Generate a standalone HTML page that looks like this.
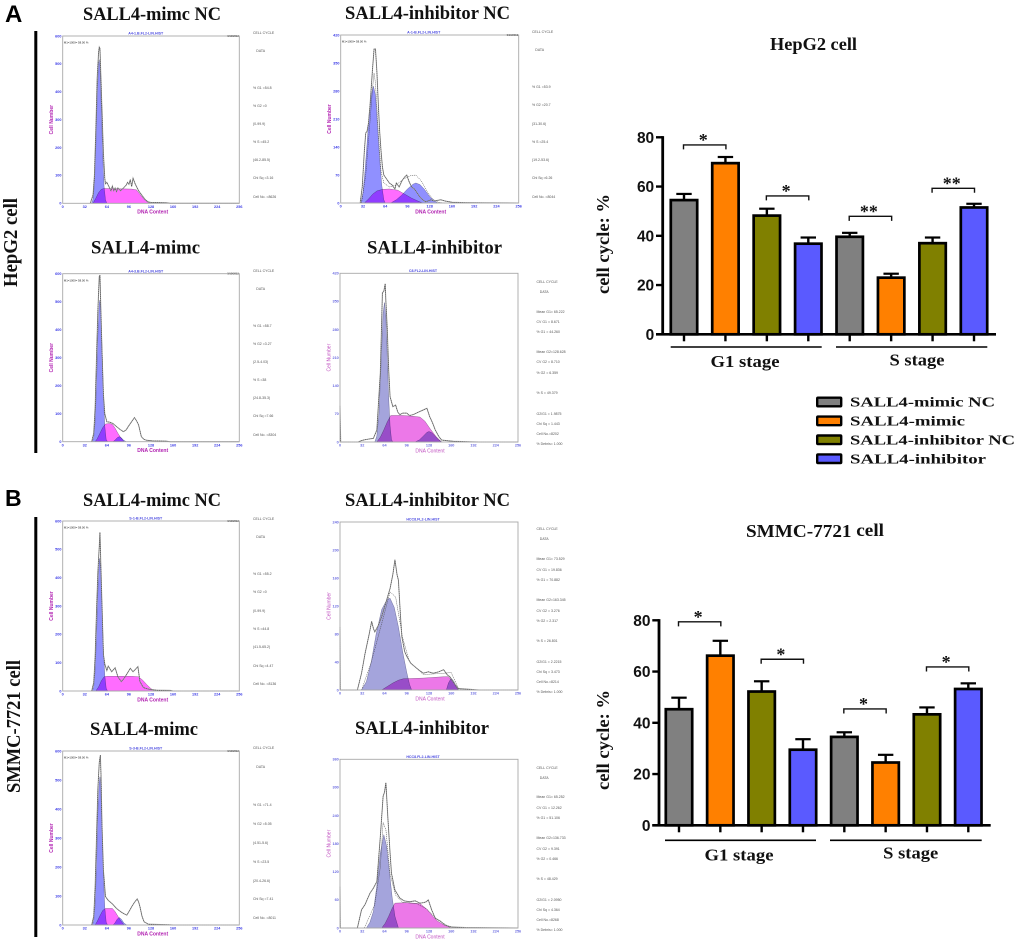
<!DOCTYPE html>
<html lang="en">
<head>
<meta charset="utf-8">
<title>SALL4 cell cycle figure</title>
<style>
html,body{margin:0;padding:0;background:#fff;}
svg{display:block;}
.serif{font-family:"Liberation Serif",serif;font-weight:bold;fill:#111;}
.sans{font-family:"Liberation Sans",sans-serif;}
.tiny{font-family:"Liberation Sans",sans-serif;font-size:3.5px;fill:#555;}
.mult{mix-blend-mode:multiply;}
#histograms{filter:blur(0.3px);}
</style>
</head>
<body>
<svg id="fig" xmlns="http://www.w3.org/2000/svg" width="1020" height="942" viewBox="0 0 1020 942">
  <rect x="0" y="0" width="1020" height="942" fill="#fff"/>
  <text class="sans" x="5" y="22" font-size="24" font-weight="bold" fill="#000">A</text>
  <text class="sans" x="5" y="506" font-size="23" font-weight="bold" fill="#000">B</text>
  <rect x="34.3" y="31" width="3" height="422" fill="#000"/>
  <rect x="34.3" y="517" width="3" height="420" fill="#000"/>
  <text class="serif" font-size="19.5" text-anchor="middle" textLength="89" lengthAdjust="spacingAndGlyphs" transform="translate(17 242.5) rotate(-90)">HepG2 cell</text>
  <text class="serif" font-size="19.5" text-anchor="middle" textLength="133" lengthAdjust="spacingAndGlyphs" transform="translate(20 726.5) rotate(-90)">SMMC-7721 cell</text>

  <text class="serif" x="83" y="20" font-size="19" textLength="138" lengthAdjust="spacingAndGlyphs">SALL4-mimc NC</text>
  <text class="serif" x="345" y="19" font-size="19" textLength="165" lengthAdjust="spacingAndGlyphs">SALL4-inhibitor NC</text>
  <text class="serif" x="91" y="253.5" font-size="19" textLength="109" lengthAdjust="spacingAndGlyphs">SALL4-mimc</text>
  <text class="serif" x="367" y="253.5" font-size="19" textLength="135" lengthAdjust="spacingAndGlyphs">SALL4-inhibitor</text>
  <text class="serif" x="83" y="506" font-size="19" textLength="138" lengthAdjust="spacingAndGlyphs">SALL4-mimc NC</text>
  <text class="serif" x="345" y="506" font-size="19" textLength="165" lengthAdjust="spacingAndGlyphs">SALL4-inhibitor NC</text>
  <text class="serif" x="90" y="735" font-size="19" textLength="108" lengthAdjust="spacingAndGlyphs">SALL4-mimc</text>
  <text class="serif" x="355" y="734" font-size="19" textLength="134" lengthAdjust="spacingAndGlyphs">SALL4-inhibitor</text>

  <text class="serif" x="770" y="50" font-size="17.5" textLength="87" lengthAdjust="spacingAndGlyphs">HepG2 cell</text>
  <text class="serif" x="746" y="537" font-size="17.5" textLength="138" lengthAdjust="spacingAndGlyphs">SMMC-7721 <tspan dy="-1">cell</tspan></text>

  <g id="histograms"></g>
  <g id="chartA"></g>
  <g id="chartB"></g>
  <g id="legend"></g>
</svg>
<script>
/* ---------- bar chart data ---------- */
const stageLabels = ["G1 stage", "S stage"];
const groupLabels = ["SALL4-mimic NC", "SALL4-mimic", "SALL4-inhibitor NC", "SALL4-inhibitor"];
const groupColors = ["#808080", "#ff8000", "#808000", "#5a5aff"];
const yTickValues = [0, 20, 40, 60, 80];
const hepg2Values = [54.5, 69.5, 48.2, 36.8, 39.6, 23.0, 37.0, 51.5];
const hepg2ErrorTops = [57.0, 72.0, 51.0, 39.3, 41.2, 24.6, 39.3, 53.0];
const hepg2Brackets = [[0, 1, 76.9, "*"], [2, 3, 56.2, "*"], [4, 5, 47.9, "**"], [6, 7, 59.3, "**"]];
const smmcValues = [45.3, 66.2, 52.2, 29.5, 34.5, 24.5, 43.3, 53.2];
const smmcErrorTops = [49.8, 72.0, 56.2, 33.6, 36.3, 27.5, 46.0, 55.4];
const smmcBrackets = [[0, 1, 79.4, "*"], [2, 3, 64.8, "*"], [4, 5, 45.4, "*"], [6, 7, 61.8, "*"]];

/* ---------- histogram data: [DNA channel, cell count] ---------- */
const xTickLabels = [0, 32, 64, 96, 128, 160, 192, 224, 256];
const a1Ticks = [0, 100, 200, 300, 400, 500, 600];
const a1G1 = [[42,0],[44,15],[46,70],[48,200],[50,380],[52,500],[53,515],[54,490],[56,340],[58,170],[60,60],[62,12],[64,0]];
const a1S = [[44,0],[48,18],[52,38],[56,50],[60,53],[80,52],[100,51],[107,48],[112,32],[118,14],[124,2],[128,0]];
const a1Raw = [[40,0],[44,30],[46,100],[48,260],[50,450],[52,540],[53,560],[54,555],[55,480],[57,330],[59,180],[61,90],[62,70],[64,75],[66,65],[68,55],[70,45],[72,62],[74,45],[76,55],[78,42],[80,55],[84,45],[88,55],[92,65],[94,75],[96,68],[98,85],[100,60],[102,90],[105,70],[108,55],[110,45],[116,25],[120,12],[124,5],[128,3],[136,3],[150,2],[156,0],[256,0]];

const a2Ticks = [0, 70, 140, 210, 280, 350, 420];
const a2G1 = [[29,0],[32,25],[35,80],[38,150],[41,225],[44,270],[47,292],[50,270],[53,190],[56,110],[59,45],[62,8],[64,0]];
const a2S = [[34,0],[40,10],[46,22],[52,30],[60,34],[70,35],[82,32],[92,22],[102,12],[112,4],[118,0]];
const a2G2 = [[72,0],[80,8],[88,20],[96,35],[104,47],[108,50],[114,46],[120,35],[128,16],[134,6],[140,0]];
const a2Fit = [[30,0],[36,70],[42,200],[46,290],[48,325],[50,300],[54,180],[58,80],[62,50],[70,40],[80,45],[90,60],[100,68],[108,70],[116,55],[124,30],[132,10],[140,2],[150,0]];
const a2Raw = [[28,0],[31,40],[34,130],[36,175],[38,180],[40,200],[42,240],[44,290],[46,340],[48,385],[50,385],[52,330],[54,250],[56,180],[58,130],[60,90],[62,70],[64,65],[66,60],[70,50],[74,45],[78,35],[80,50],[84,40],[88,55],[92,65],[95,70],[98,55],[102,40],[106,35],[110,25],[114,15],[118,8],[122,3],[130,8],[134,5],[144,8],[150,5],[160,2],[180,1],[256,0]];

const a3Ticks = [0, 100, 200, 300, 400, 500, 600];
const a3G1 = [[43,0],[45,15],[47,70],[49,200],[51,380],[53,495],[54,506],[55,480],[57,340],[59,170],[61,55],[63,8],[65,0]];
const a3S = [[47,0],[50,10],[54,30],[58,50],[62,63],[68,65],[72,62],[76,48],[80,30],[84,15],[89,0]];
const a3G2 = [[73,0],[76,6],[79,14],[82,18],[85,14],[88,6],[92,0]];
const a3Raw = [[42,0],[45,30],[47,120],[49,300],[51,470],[53,590],[54,595],[55,500],[57,320],[59,170],[61,100],[64,71],[68,70],[73,65],[78,54],[83,44],[88,36],[92,42],[95,54],[100,72],[104,86],[107,75],[110,60],[114,18],[118,8],[122,5],[130,3],[150,2],[156,0],[256,0]];

const a4Ticks = [0, 70, 140, 210, 280, 350, 420];
const a4G1 = [[50,0],[53,15],[56,70],[59,190],[62,320],[64,347],[66,310],[68,210],[70,110],[72,40],[74,6],[76,0]];
const a4S = [[53,0],[58,12],[63,30],[68,50],[73,66],[90,66],[105,64],[115,62],[122,52],[130,32],[138,14],[146,0]];
const a4G2 = [[108,0],[114,5],[120,15],[125,24],[128,26],[132,23],[137,14],[142,5],[147,0]];
const a4Raw = [[0,90],[1,0],[26,0],[30,3],[34,5],[40,7],[48,9],[53,30],[58,172],[61,372],[63,375],[65,394],[66,350],[68,280],[70,180],[72,113],[76,88],[80,92],[83,75],[86,68],[90,72],[96,72],[100,66],[105,68],[110,72],[115,76],[120,80],[125,84],[129,63],[133,48],[137,30],[142,14],[146,5],[155,3],[163,2],[180,1],[200,0],[256,0]];

const b1Ticks = [0, 100, 200, 300, 400, 500, 600];
const b1G1 = [[43,0],[45,15],[47,70],[49,190],[51,350],[53,455],[53.5,468],[55,430],[57,300],[59,150],[61,55],[63,10],[65,0]];
const b1S = [[48,0],[52,14],[56,36],[60,50],[64,52],[100,52],[110,50],[116,38],[122,22],[128,8],[134,0]];
const b1Raw = [[42,0],[45,30],[47,120],[49,280],[51,420],[53,510],[54,560],[55,470],[57,300],[59,130],[61,95],[64,72],[66,88],[71,68],[76,82],[80,50],[85,33],[90,48],[98,80],[102,68],[106,78],[109,86],[112,33],[117,12],[122,8],[128,5],[136,3],[156,2],[160,0],[256,0]];

const b2Ticks = [0, 40, 80, 120, 160, 200, 240];
const b2G1 = [[31,0],[38,12],[45,40],[52,80],[60,115],[68,130],[72,131],[78,118],[84,90],[90,55],[96,25],[100,8],[103,0]];
const b2S = [[60,0],[68,5],[76,10],[84,14],[91,16],[120,17],[150,19],[156,19],[162,12],[170,0]];
const b2G2 = [[153,0],[156,10],[160,17],[164,12],[167,5],[171,0]];
const b2Fit = [[31,0],[45,40],[60,95],[72,140],[80,133],[90,75],[100,40],[120,22],[150,24],[160,25],[170,3],[176,0]];
const b2Raw = [[0,90],[0.5,0],[25,0],[31,24],[36,52],[42,80],[45.5,98],[48,88],[50,83],[55,92],[60,105],[66,125],[72,145],[76,165],[79,186],[82,165],[84,157],[87,105],[89,76],[93,55],[96,48],[102,38],[108,33],[114,28],[120,24],[127,26],[134,24],[142,26],[149,29],[154,22],[158,19],[164,10],[170,2],[186,1],[200,0],[256,0]];

const b3Ticks = [0, 100, 200, 300, 400, 500, 600];
const b3G1 = [[43,0],[45,15],[47,70],[49,200],[51,390],[53,490],[54,511],[55,485],[57,340],[59,170],[61,60],[63,10],[65,0]];
const b3S = [[47,0],[50,12],[54,32],[58,50],[62,57],[72,57],[76,46],[80,30],[84,15],[89,0]];
const b3G2 = [[73,0],[76,8],[79,20],[82,26],[85,20],[89,6],[93,0]];
const b3Raw = [[42,0],[45,30],[47,130],[49,300],[51,470],[53,560],[54.6,586],[55.5,520],[57,340],[59,190],[62,98],[66,85],[71,75],[75,65],[78,57],[84,46],[88,40],[93,34],[97,50],[100,63],[104,78],[108,90],[110,80],[112,63],[115,30],[118,11],[124,3],[135,2],[155,1],[160,0],[256,0]];

const b4Ticks = [0, 60, 120, 180, 240, 300, 360];
const b4G1 = [[38,0],[43,12],[48,35],[53,90],[58,160],[63,199],[67,175],[71,120],[75,65],[79,25],[84,0]];
const b4S = [[60,0],[65,10],[70,25],[75,42],[79,53],[95,54],[115,52],[125,40],[133,26],[140,15],[150,6],[161,0]];
const b4Fit = [[35,0],[50,50],[58,130],[62,225],[66,210],[72,115],[80,70],[90,55],[110,52],[125,40],[140,18],[160,0]];
const b4Raw = [[0,88],[0.5,0],[25,0],[31,39],[36,50],[43,74],[48,85],[53,99],[58,195],[62,281],[64,290],[66,310],[69,231],[72,160],[74,117],[79,81],[86,64],[92,58],[100,56],[108,58],[115,53],[120,54],[124,56],[127,60],[132,38],[137,21],[145,14],[151,6],[161,2],[180,1],[256,0]];

/* ---------- printed cytometry statistics ---------- */
const a1Stats = ["CELL CYCLE","DATA","% G1 =54.8","% G2 =0","(0-99.9)","% S =45.2","(46.2-85.5)","Chi Sq =3.16","Cell No. =8626"];
const a2Stats = ["CELL CYCLE","DATA","% G1 =53.9","% G2 =20.7","(31-30.6)","% S =25.4","(19.2-53.6)","Chi Sq =6.26","Cell No. =8044"];
const a3Stats = ["CELL CYCLE","DATA","% G1 =58.7","% G2 =3.27","(2.5-4.03)","% S =38","(24.8-35.3)","Chi Sq =7.66","Cell No. =8304"];
const a4Stats = ["CELL CYCLE","DATA","Mean G1= 65.222","CV G1 = 8.671","% G1 = 44.260","Mean G2=128.628","CV G2 = 8.710","% G2 = 6.359","% S = 49.379","G2/G1 = 1.9875","Chi Sq = 1.443","Cell No.=8202","% Debris= 1.000"];
const b1Stats = ["CELL CYCLE","DATA","% G1 =55.2","% G2 =0","(0-99.9)","% S =44.8","(41.5-65.2)","Chi Sq =4.47","Cell No. =8136"];
const b2Stats = ["CELL CYCLE","DATA","Mean G1= 73.529","CV G1 = 19.836","% G1 = 70.882","Mean G2=163.345","CV G2 = 3.276","% G2 = 2.317","% S = 26.801","G2/G1 = 2.2215","Chi Sq = 3.473","Cell No.=8214","% Debris= 1.000"];
const b3Stats = ["CELL CYCLE","DATA","% G1 =71.4","% G2 =5.05","(4.51-5.6)","% S =23.5","(20.4-26.6)","Chi Sq =7.41","Cell No. =8011"];
const b4Stats = ["CELL CYCLE","DATA","Mean G1= 65.252","CV G1 = 12.262","% G1 = 51.106","Mean G2=136.733","CV G2 = 9.391","% G2 = 0.466","% S = 48.429","G2/G1 = 2.0950","Chi Sq = 4.364","Cell No.=8268","% Debris= 1.000"];

const NS = "http://www.w3.org/2000/svg";
function add(parent, tag, attrs, text) {
  const el = document.createElementNS(NS, tag);
  for (const k in attrs) el.setAttribute(k, attrs[k]);
  if (text !== undefined) el.textContent = text;
  parent.appendChild(el);
  return el;
}

/* ---------- histogram drawing ---------- */
function drawHistogram(id, cfg) {
  const root = document.getElementById("histograms");
  const g = add(root, "g", {});
  
  
  const b = cfg.box;
  const ymax = cfg.ticks[cfg.ticks.length - 1];
  const xs = c => b.x + c / 256 * b.w;
  const ys = v => b.y + b.h * (1 - v / ymax);
  const pts = arr => arr.map(p => xs(p[0]).toFixed(2) + "," + ys(p[1]).toFixed(2)).join(" ");

  if (cfg.g1) {
    const el = add(g, "polygon", {points: pts(cfg.g1), fill: cfg.g1Color, stroke: "#5a5a8a", "stroke-width": 0.4, class: "mult"});
    
    
  }
  if (cfg.s) {
    const el = add(g, "polygon", {points: pts(cfg.s), fill: cfg.sColor, stroke: "#7a4a7a", "stroke-width": 0.4, class: "mult"});
    
    
  }
  if (cfg.g2) {
    const el = add(g, "polygon", {points: pts(cfg.g2), fill: cfg.g1Color, stroke: "#5a5a8a", "stroke-width": 0.4, class: "mult"});
    
    
  }
  if (cfg.fit) {
    const el = add(g, "polyline", {points: pts(cfg.fit), fill: "none", stroke: "#444", "stroke-width": 0.5, "stroke-dasharray": "1.2 0.8"});
    
    
  }
  const under = add(g, "polyline", {points: pts(cfg.raw), fill: "none", stroke: "#999", "stroke-width": 1});
  
  
  const over = add(g, "polyline", {points: pts(cfg.raw), fill: "none", stroke: "#222", "stroke-width": 0.45, "stroke-dasharray": "1 0.9"});
  
  

  const frame = add(g, "rect", {x: b.x, y: b.y, width: b.w, height: b.h, fill: "none", stroke: "#a8a8a8", "stroke-width": 0.9});
  
  

  cfg.ticks.forEach(t => {
    const tl = add(g, "text", {x: b.x - 1.2, y: ys(t) + 1.3, "text-anchor": "end", "font-size": 3.8, "font-weight": "bold", fill: cfg.tickColor, class: "sans"}, t);
    
    
  });
  xTickLabels.forEach(t => {
    const tl = add(g, "text", {x: xs(t), y: b.y + b.h + 4.6, "text-anchor": "middle", "font-size": 3.8, "font-weight": "bold", fill: cfg.tickColor, class: "sans"}, t);
    
    
  });
  const yl = add(g, "text", {"text-anchor": "middle", "font-size": 5, "font-weight": cfg.titleWeight, fill: cfg.labelColor, class: "sans", transform: "translate(" + (b.x - 9.5) + " " + (b.y + b.h / 2) + ") rotate(-90)"}, "Cell Number");
  
  
  const xl = add(g, "text", {x: b.x + 90, y: b.y + b.h + 10.3, "text-anchor": "middle", "font-size": 5, "font-weight": cfg.titleWeight, fill: cfg.labelColor, class: "sans"}, "DNA Content");
  
  
  const top = add(g, "text", {x: b.x + 83, y: b.y - 1.3, "text-anchor": "middle", "font-size": 3.6, "font-weight": "bold", fill: "#4a4ae0", class: "sans"}, cfg.sample);
  
  
  if (cfg.gate) {
    const gt = add(g, "text", {x: b.x + 1.2, y: b.y + 7.6, "font-size": 2.8, fill: "#222", class: "sans"}, "M1=1000= 58.00 %");
    
    
    const ds = add(g, "text", {x: b.x + b.w - 0.5, y: b.y + 1, "text-anchor": "end", "font-size": 2.6, fill: "#333", class: "sans"}, "3/10/2012");
    
    
  }
  cfg.stats.forEach((s, i) => {
    const sx = cfg.statX + (i === 1 ? 3.3 : 0);
    const st = add(g, "text", {x: sx, y: cfg.statY[i] + 1.2, class: "tiny"}, s);
    
    
  });
}

const colorBright = {g1Color: "#9090ff", sColor: "#ff6cff", tickColor: "#3a3ae6", labelColor: "#b01fb0", titleWeight: "bold", gate: true};
const colorSoft = {g1Color: "#a4a4dc", sColor: "#ec78e8", tickColor: "#6a6ae0", labelColor: "#c050c0", titleWeight: "normal", gate: false};

drawHistogram("a1", Object.assign({box: {x: 62.7, y: 36, w: 176.6, h: 167.3}, ticks: a1Ticks, g1: a1G1, s: a1S, raw: a1Raw, stats: a1Stats, statX: 253, statY: [33,51,88,106,124,142,160,178,197], sample: "A4-1.B.FL2-LIN.HIST"}, colorBright));
drawHistogram("a2", Object.assign({box: {x: 340.7, y: 35, w: 178, h: 168}, ticks: a2Ticks, g1: a2G1, s: a2S, g2: a2G2, fit: a2Fit, raw: a2Raw, stats: a2Stats, statX: 532, statY: [32,50,87,105,124,142,160,178,197], sample: "A-1-B.FL2-LIN.HIST"}, colorBright));
drawHistogram("a3", Object.assign({box: {x: 62.7, y: 273.7, w: 176.6, h: 168}, ticks: a3Ticks, g1: a3G1, s: a3S, g2: a3G2, raw: a3Raw, stats: a3Stats, statX: 253, statY: [271,289,326,344,362,380,398,416,435], sample: "A4-3.B.FL2-LIN.HIST"}, colorBright));
drawHistogram("a4", Object.assign({box: {x: 340, y: 273.3, w: 178, h: 168.7}, ticks: a4Ticks, g1: a4G1, s: a4S, g2: a4G2, raw: a4Raw, stats: a4Stats, statX: 536.5, statY: [282,292,312,322,332,352,362,373,393,414,424,434,444], sample: "C8.FL2-LIN.HIST"}, colorSoft));
drawHistogram("b1", Object.assign({box: {x: 62.7, y: 521, w: 176.6, h: 170}, ticks: b1Ticks, g1: b1G1, s: b1S, raw: b1Raw, stats: b1Stats, statX: 253, statY: [519,537,574,592,611,629,647,666,684], sample: "S-1-B.FL2-LIN.HIST"}, colorBright));
drawHistogram("b2", Object.assign({box: {x: 340, y: 522, w: 178, h: 168}, ticks: b2Ticks, g1: b2G1, s: b2S, g2: b2G2, fit: b2Fit, raw: b2Raw, stats: b2Stats, statX: 536.5, statY: [529,539,559,570,580,600,611,621,641,662,672,682,692], sample: "HCC8.FL2-LIN.HIST"}, colorSoft));
drawHistogram("b3", Object.assign({box: {x: 62.7, y: 751, w: 176.6, h: 174}, ticks: b3Ticks, g1: b3G1, s: b3S, g2: b3G2, raw: b3Raw, stats: b3Stats, statX: 253, statY: [748,767,805,824,843,862,881,899,918], sample: "S-3-B.FL2-LIN.HIST"}, colorBright));
drawHistogram("b4", Object.assign({box: {x: 340, y: 759.3, w: 178, h: 168.7}, ticks: b4Ticks, g1: b4G1, s: b4S, fit: b4Fit, raw: b4Raw, stats: b4Stats, statX: 536.5, statY: [768,778,797,808,818,838,849,859,879,900,910,920,930], sample: "HCC8.FL2-LIN.HIST"}, colorSoft));

/* ---------- bar chart drawing ---------- */
function drawBars(rootId, id, cfg) {
  const root = document.getElementById(rootId);
  const y = v => cfg.y0 + (cfg.y80 - cfg.y0) * v / 80;
  const x = i => cfg.x0 + i * cfg.step;

  cfg.values.forEach((v, i) => {
    const color = groupColors[i % 4];
    const err = add(root, "line", {x1: x(i), x2: x(i), y1: y(v), y2: y(cfg.errs[i]), stroke: "#000", "stroke-width": 2.4});
    
    
    const cap = add(root, "line", {x1: x(i) - 7.7, x2: x(i) + 7.7, y1: y(cfg.errs[i]), y2: y(cfg.errs[i]), stroke: "#000", "stroke-width": 2.2});
    
    
    const bar = add(root, "rect", {x: x(i) - 13.2, y: y(v), width: 26.4, height: y(0) - y(v), fill: color, stroke: "#000", "stroke-width": 2.7});
    
    
    const tick = add(root, "line", {x1: x(i), x2: x(i), y1: y(0), y2: y(0) + 7, stroke: "#000", "stroke-width": 2.4});
    
    
  });

  const yAxis = add(root, "line", {x1: cfg.axisX, x2: cfg.axisX, y1: y(80) - 1.2, y2: y(0) + 1.2, stroke: "#000", "stroke-width": 2.8});
  
  
  const xAxis = add(root, "line", {x1: cfg.axisX - 6.7, x2: cfg.baseEnd, y1: y(0), y2: y(0), stroke: "#000", "stroke-width": 2.6});
  
  

  yTickValues.forEach(t => {
    const tk = add(root, "line", {x1: cfg.axisX - 6.7, x2: cfg.axisX, y1: y(t), y2: y(t), stroke: "#000", "stroke-width": 2.4});
    
    
    const lb = add(root, "text", {x: cfg.axisX - 8.5, y: y(t) + 5.5, "text-anchor": "end", "font-size": 15.5, "font-weight": "bold", fill: "#111", class: "sans"}, t);
    
    
  });

  cfg.brackets.forEach(br => {
    const bx1 = x(br[0]) - 0.5;
    const bx2 = x(br[1]) + 0.5;
    const by = y(br[2]);
    const p = add(root, "polyline", {points: bx1 + "," + (by + 4.5) + " " + bx1 + "," + by + " " + bx2 + "," + by + " " + bx2 + "," + (by + 4.5), fill: "none", stroke: "#111", "stroke-width": 1.4});
    
    
    const s = add(root, "text", {x: (bx1 + bx2) / 2 - 1.5, y: by + 1, "text-anchor": "middle", "font-size": 18, class: "serif"}, br[3]);
    
    
  });

  stageLabels.forEach((lab, i) => {
    const r = cfg.stageLines[i];
    const ln = add(root, "line", {x1: r[0], x2: r[1], y1: cfg.stageY, y2: cfg.stageY, stroke: "#000", "stroke-width": 1.6});
    
    
    const t = add(root, "text", {x: cfg.stageText[i], y: cfg.stageTextY[i], "text-anchor": "middle", "font-size": 17, class: "serif", textLength: cfg.stageWidth[i], lengthAdjust: "spacingAndGlyphs"}, lab);
    
    
  });

  const yt = add(root, "text", {"text-anchor": "middle", "font-size": 17.5, class: "serif", textLength: 100, lengthAdjust: "spacingAndGlyphs", transform: "translate(" + cfg.titleX + " " + cfg.titleY + ") rotate(-90)"}, "cell cycle: %");
  
  
}

drawBars("chartA", "hepg2", {
  values: hepg2Values, errs: hepg2ErrorTops, brackets: hepg2Brackets,
  y0: 334.3, y80: 137.3, x0: 684, step: 41.43, axisX: 662.7, baseEnd: 996,
  stageY: 347, stageLines: [[670.7, 821.7], [836, 987.3]],
  stageText: [745, 917], stageTextY: [367, 365.5], stageWidth: [69, 55],
  titleX: 609, titleY: 244
});
drawBars("chartB", "smmc", {
  values: smmcValues, errs: smmcErrorTops, brackets: smmcBrackets,
  y0: 825.3, y80: 620.3, x0: 679, step: 41.33, axisX: 659, baseEnd: 990.7,
  stageY: 840.3, stageLines: [[665, 816], [830, 981.7]],
  stageText: [739, 910.7], stageTextY: [860.5, 858.5], stageWidth: [69, 55],
  titleX: 609, titleY: 740
});

/* ---------- legend ---------- */
const legendRoot = document.getElementById("legend");
const legendWidths = [145, 115, 165, 136];
groupLabels.forEach((lab, i) => {
  const cy = 402 + i * 18.9;
  const sw = add(legendRoot, "rect", {x: 817.2, y: cy - 4.3, width: 24, height: 8.6, rx: 0.8, fill: groupColors[i], stroke: "#000", "stroke-width": 2.4});
  
  
  const t = add(legendRoot, "text", {x: 850, y: cy + 4.6, "font-size": 14, class: "serif", textLength: legendWidths[i], lengthAdjust: "spacingAndGlyphs"}, lab);
  
  
});
</script>
</body>
</html>
